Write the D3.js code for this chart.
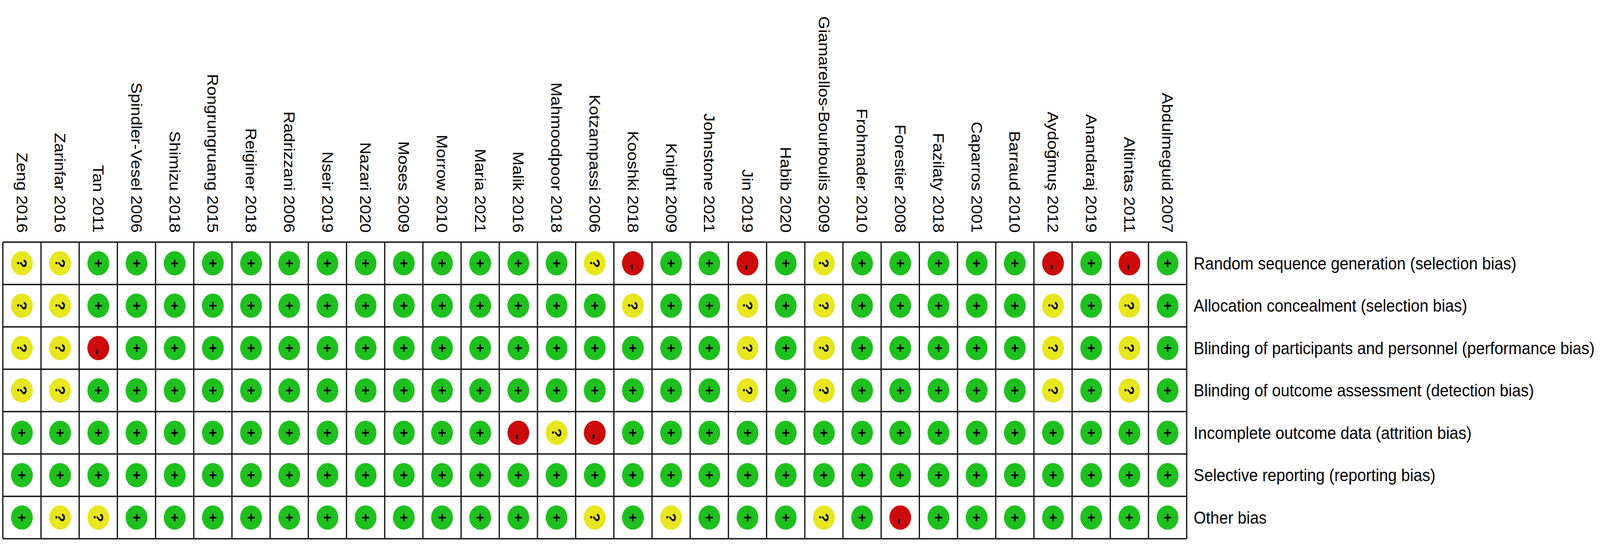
<!DOCTYPE html>
<html lang="en">
<head>
  <meta charset="UTF-8">
  <title>Risk of bias summary</title>
  <script src="https://d3js.org/d3.v7.min.js"></script>
  <style>
    html, body { margin: 0; background: #fff; overflow: hidden; }
    svg { display: block; }
    text { font-family: "Liberation Sans", Arial, sans-serif; fill: #000; }
  </style>
</head>
<body>
  <svg></svg>

  <script>
    const studies = [
      "Zeng 2016", "Zarinfar 2016", "Tan 2011", "Spindler-Vesel 2006", "Shimizu 2018",
      "Rongrungruang 2015", "Reiginer 2018", "Radrizzani 2006", "Nseir 2019", "Nazari 2020",
      "Moses 2009", "Morrow 2010", "Maria 2021", "Malik 2016", "Mahmoodpoor 2018",
      "Kotzampassi 2006", "Kooshki 2018", "Knight 2009", "Johnstone 2021", "Jin 2019",
      "Habib 2020", "Giamarellos-Bourboulis 2009", "Frohmader 2010", "Forestier 2008",
      "Fazilaty 2018", "Caparros 2001", "Barraud 2010", "Aydoğmuş 2012", "Anandaraj 2019",
      "Altintas 2011", "Abdulmeguid 2007"
    ];

    const domains = [
      "Random sequence generation (selection bias)",
      "Allocation concealment (selection bias)",
      "Blinding of participants and personnel (performance bias)",
      "Blinding of outcome assessment (detection bias)",
      "Incomplete outcome data (attrition bias)",
      "Selective reporting (reporting bias)",
      "Other bias"
    ];

    // one judgement per study, same order as studies
    const randomSequence = ["?","?","+","+","+","+","+","+","+","+","+","+","+","+","+","?","-","+","+","-","+","?","+","+","+","+","+","-","+","-","+"];
    const allocation     = ["?","?","+","+","+","+","+","+","+","+","+","+","+","+","+","+","?","+","+","?","+","?","+","+","+","+","+","?","+","?","+"];
    const blindingPart   = ["?","?","-","+","+","+","+","+","+","+","+","+","+","+","+","+","+","+","+","?","+","?","+","+","+","+","+","?","+","?","+"];
    const blindingOutc   = ["?","?","+","+","+","+","+","+","+","+","+","+","+","+","+","+","+","+","+","?","+","?","+","+","+","+","+","?","+","?","+"];
    const incomplete     = ["+","+","+","+","+","+","+","+","+","+","+","+","+","-","?","-","+","+","+","+","+","+","+","+","+","+","+","+","+","+","+"];
    const selective      = ["+","+","+","+","+","+","+","+","+","+","+","+","+","+","+","+","+","+","+","+","+","+","+","+","+","+","+","+","+","+","+"];
    const otherBias      = ["+","?","?","+","+","+","+","+","+","+","+","+","+","+","+","?","+","?","+","+","+","?","+","-","+","+","+","+","+","+","+"];

    const judgements = [randomSequence, allocation, blindingPart, blindingOutc, incomplete, selective, otherBias];

    // drawn in 4550x1393 units, stretched to whatever the window really is
    const W = 4550, H = 1393;
    const svg = d3.select("svg")
      .attr("width", window.innerWidth)
      .attr("height", window.innerHeight)
      .attr("viewBox", `0 0 ${W} ${H}`)
      .attr("preserveAspectRatio", "none");

    const gridLeft = 8, gridTop = 620, cellW = 108.6, cellH = 108.5;

    const x = d3.scaleBand()
      .domain(studies)
      .range([gridLeft, gridLeft + studies.length * cellW]);

    const y = d3.scaleBand()
      .domain(domains)
      .range([gridTop, gridTop + domains.length * cellH]);

    const color = d3.scaleOrdinal()
      .domain(["+", "?", "-"])
      .range(["#1ec01e", "#e8e61e", "#cc0a0a"]);

    const cells = [];
    judgements.forEach((row, i) => {
      row.forEach((v, j) => cells.push({ domain: domains[i], study: studies[j], value: v }));
    });

    // grid
    const grid = svg.append("g")
      .attr("stroke", "#111")
      .attr("stroke-width", 3.5)
      .attr("fill", "none");

    grid.selectAll("line.v")
      .data(d3.range(studies.length + 1))
      .join("line")
      .attr("class", "v")
      .attr("x1", i => gridLeft + i * x.bandwidth())
      .attr("x2", i => gridLeft + i * x.bandwidth())
      .attr("y1", y.range()[0])
      .attr("y2", y.range()[1]);

    grid.selectAll("line.h")
      .data(d3.range(domains.length + 1))
      .join("line")
      .attr("class", "h")
      .attr("y1", i => gridTop + i * y.bandwidth())
      .attr("y2", i => gridTop + i * y.bandwidth())
      .attr("x1", x.range()[0])
      .attr("x2", x.range()[1]);

    // judgement dots
    const marks = svg.append("g")
      .selectAll("g")
      .data(cells)
      .join("g")
      .attr("transform", d => `translate(${x(d.study) + x.bandwidth() / 2},${y(d.domain) + y.bandwidth() / 2})`);

    marks.append("circle")
      .attr("r", 31)
      .attr("fill", d => color(d.value));

    // symbols are turned like the labels; the minus sits a bit low in the dot
    marks.append("text")
      .attr("transform", "rotate(90)")
      .attr("text-anchor", "middle")
      .attr("dominant-baseline", "central")
      .attr("dx", d => d.value === "-" ? 10 : 0)
      .attr("font-size", d => d.value === "-" ? 44 : 38)
      .attr("font-weight", "bold")
      .text(d => d.value);

    // study labels, turned clockwise
    svg.append("g")
      .selectAll("text")
      .data(studies)
      .join("text")
      .attr("transform", d => `translate(${x(d) + x.bandwidth() / 2},${gridTop - 24}) rotate(90)`)
      .attr("text-anchor", "end")
      .attr("dy", "0.35em")
      .attr("font-size", 43)
      .text(d => d);

    // domain labels
    svg.append("g")
      .selectAll("text")
      .data(domains)
      .join("text")
      .attr("x", x.range()[1] + 20)
      .attr("y", d => y(d) + y.bandwidth() / 2)
      .attr("dy", "0.35em")
      .attr("font-size", 45)
      .text(d => d);
  </script>
</body>
</html>
